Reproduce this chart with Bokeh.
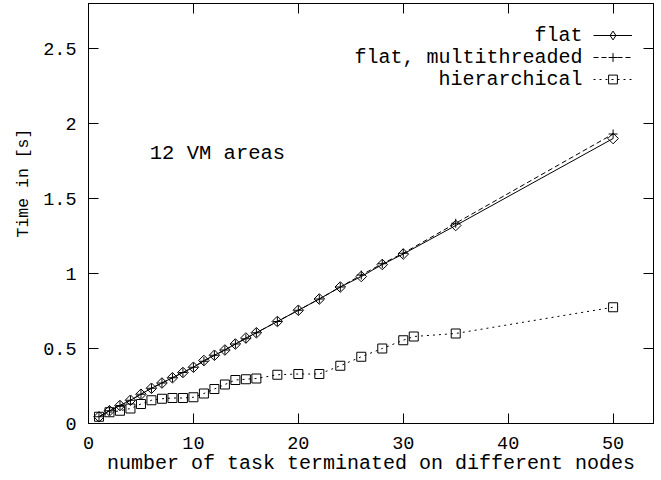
import math
from bokeh.plotting import figure
from bokeh.models import Range1d, LinearAxis, FixedTicker, Legend, LegendItem, Label, Title
from bokeh.embed import file_html
from bokeh.resources import INLINE

# ---- data ----
flat_x = [1, 2, 3, 4, 5, 6, 7, 8, 9, 10, 11, 12, 13, 14, 15, 16, 18, 20, 22, 24, 26, 28, 30, 35, 50]
flat_y = [0.045, 0.085, 0.12, 0.155, 0.195, 0.235, 0.27, 0.305, 0.34, 0.375, 0.42, 0.455, 0.49,
          0.53, 0.57, 0.605, 0.68, 0.755, 0.83, 0.91, 0.98, 1.06, 1.13, 1.32, 1.90]

multi_x = [1, 2, 3, 4, 5, 6, 7, 8, 9, 10, 11, 12, 13, 14, 15, 16, 18, 20, 22, 24, 26, 28, 30, 35, 50]
multi_y = [0.045, 0.085, 0.12, 0.155, 0.195, 0.235, 0.27, 0.305, 0.34, 0.375, 0.415, 0.455, 0.49,
           0.53, 0.565, 0.605, 0.68, 0.755, 0.83, 0.91, 0.99, 1.065, 1.135, 1.335, 1.93]

hier_x = [1, 2, 3, 4, 5, 6, 7, 8, 9, 10, 11, 12, 13, 14, 15, 16, 18, 20, 22, 24, 26, 28, 30, 31, 35, 50]
hier_y = [0.045, 0.075, 0.085, 0.10, 0.13, 0.155, 0.165, 0.17, 0.17, 0.175, 0.20, 0.23, 0.26,
          0.29, 0.295, 0.30, 0.325, 0.33, 0.33, 0.385, 0.445, 0.50, 0.555, 0.58, 0.60, 0.775]

series_names = ["flat", "flat, multithreaded", "hierarchical"]
x_ticks = [0, 10, 20, 30, 40, 50]
x_tick_labels = ["0", "10", "20", "30", "40", "50"]
y_ticks = [0, 0.5, 1, 1.5, 2, 2.5]
y_tick_labels = ["0", "0.5", "1", "1.5", "2", "2.5"]
annotation_text = "12 VM areas"
x_title = "number of task terminated on different nodes"
y_title = "Time in [s]"

FONT = "Liberation Mono"
X_MAX = 53.85
Y_MAX = 2.8

p = figure(width=658, height=480, output_backend="svg", toolbar_location=None,
           x_range=Range1d(0, X_MAX), y_range=Range1d(0, Y_MAX),
           min_border_left=88, min_border_right=5, min_border_top=3, min_border_bottom=57)
p.background_fill_color = "white"
p.border_fill_color = "white"
p.outline_line_color = "black"
p.outline_line_width = 1
p.xgrid.visible = False
p.ygrid.visible = False
# an off-screen range, used only so the legend can show a diamond key
p.extra_y_ranges = {"key": Range1d(100, 101)}


def style_axis(ax, ticks, labels, show_labels=True, standoff=12):
    ax.ticker = FixedTicker(ticks=ticks)
    ax.major_label_overrides = {t: l for t, l in zip(ticks, labels)}
    ax.major_tick_in = 10
    ax.major_tick_out = 0
    ax.minor_tick_in = 0
    ax.minor_tick_out = 0
    ax.axis_line_color = "black"
    ax.major_tick_line_color = "black"
    ax.major_label_text_font = FONT
    ax.major_label_text_color = "black"
    if show_labels:
        ax.major_label_text_font_size = "18.5px"
        ax.major_label_standoff = standoff
    else:
        ax.major_label_text_font_size = "0px"
        ax.major_label_standoff = 0


style_axis(p.xaxis[0], x_ticks, x_tick_labels, standoff=13)
style_axis(p.yaxis[0], y_ticks, y_tick_labels, standoff=12)
p.xaxis[0].axis_label = x_title
p.xaxis[0].axis_label_text_font = FONT
p.xaxis[0].axis_label_text_font_size = "20px"
p.xaxis[0].axis_label_text_font_style = "normal"
p.xaxis[0].axis_label_text_color = "black"
p.xaxis[0].axis_label_standoff = 0

top_ax = LinearAxis()
style_axis(top_ax, x_ticks, ["" for _ in x_ticks], show_labels=False)
p.add_layout(top_ax, "above")
right_ax = LinearAxis()
style_axis(right_ax, y_ticks, ["" for _ in y_ticks], show_labels=False)
p.add_layout(right_ax, "right")

# y title as a side title, starting part-way up the frame (as in the reference)
p.add_layout(Title(text=y_title, align="left", offset=186, standoff=16,
                   text_font=FONT, text_font_size="16.5px", text_font_style="normal",
                   text_color="black"), "left")

# ---- series ----
l1 = p.line(flat_x, flat_y, line_color="black", line_width=1)
m1 = p.scatter(flat_x, flat_y, marker="square", angle=math.pi / 4, size=7.5,
               fill_color=None, line_color="black", line_width=1)
m1_key = p.scatter(flat_x, flat_y, marker="diamond", size=10, fill_color=None,
                   line_color="black", line_width=1, y_range_name="key")
l2 = p.line(multi_x, multi_y, line_color="black", line_width=1, line_dash="5 3")
m2 = p.scatter(multi_x, multi_y, marker="cross", size=9, line_color="black", line_width=1)
m3 = p.scatter(hier_x, hier_y, marker="square", size=9, fill_color=None,
               line_color="black", line_width=1)
l3 = p.line(hier_x, hier_y, line_color="black", line_width=1, line_dash="2 4")

legend = Legend(items=[LegendItem(label="", renderers=[l1, m1_key]),
                       LegendItem(label="", renderers=[l2, m2]),
                       LegendItem(label="", renderers=[l3, m3])],
                location=(505, 333), orientation="vertical",
                margin=0, padding=0, spacing=0,
                glyph_width=39, glyph_height=22, label_height=22, label_width=0,
                label_standoff=0, label_text_font_size="1px",
                border_line_color=None, background_fill_alpha=0)
p.add_layout(legend)

# legend texts (gnuplot style: text left of sample)
for name, yy in zip(series_names, [2.587, 2.44, 2.293]):
    p.add_layout(Label(x=47.09, y=yy, text=name, text_align="right", text_baseline="middle",
                       text_font=FONT, text_font_size="20px", text_color="black"))

p.add_layout(Label(x=5.84, y=1.8, text=annotation_text, text_align="left",
                   text_baseline="middle", text_font=FONT, text_font_size="20.5px",
                   text_color="black"))

open("out.html", "w").write(file_html(p, INLINE))
